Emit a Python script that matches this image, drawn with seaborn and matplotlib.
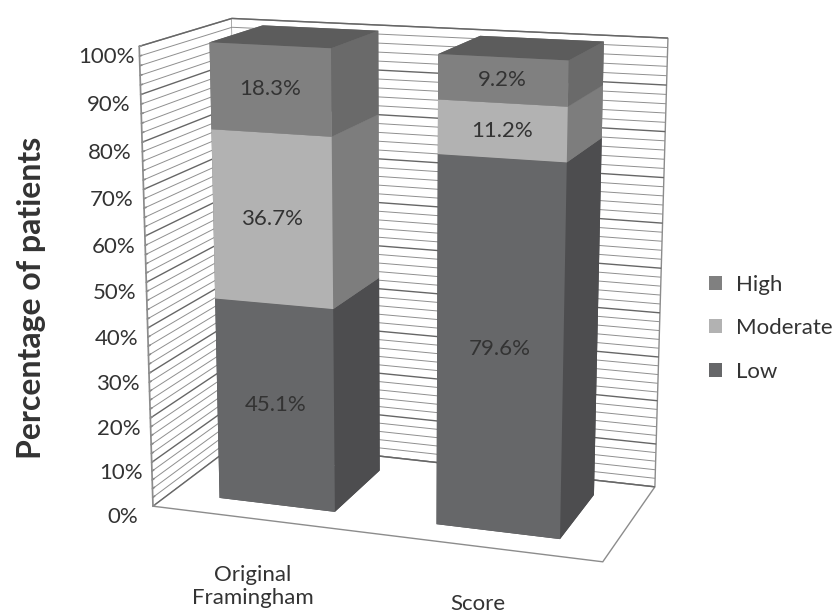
import numpy as np
import matplotlib
matplotlib.use("Agg")
import matplotlib.pyplot as plt
import seaborn as sns
from matplotlib.patches import Patch
from matplotlib.ticker import FuncFormatter

# --- data ---
categories = ["Original\nFramingham", "Score"]
low = [45.1, 79.6]
moderate = [36.7, 11.2]
high = [18.3, 9.2]
series_names = ["Low", "Moderate", "High"]

# front / side / top shades for each series
front_cols = {"Low": "#666769", "Moderate": "#b2b2b2", "High": "#808080"}
side_cols = {"Low": "#4d4d4f", "Moderate": "#7d7d7d", "High": "#6a6a6a"}
top_cols = {"Low": "#5a5a5a", "Moderate": "#9a9a9a", "High": "#5c5c5c"}

sns.set_theme(style="white")
plt.rcParams["font.family"] = ["Lato", "DejaVu Sans"]
text_col = "#333333"

fig = plt.figure(figsize=(8.38, 6.10), dpi=100)
ax = fig.add_axes([0.055, -0.016, 0.84, 1.1], projection="3d")
ax.set_proj_type("persp", focal_length=0.6)
ax.view_init(elev=14, azim=-71)
ax.set_box_aspect((1.05, 0.5, 1.05), zoom=1.01)

# bar geometry in data units
xs = np.arange(len(categories)) + 0.5
bar_w, depth0, depth = 0.54, 0.2, 0.6

stack = {"Low": low, "Moderate": moderate, "High": high}
bx, by, bz, dx, dy, dz, cols = [], [], [], [], [], [], []
base = np.zeros(len(categories))
for name in series_names:
    vals = np.array(stack[name])
    for i, v in enumerate(vals):
        bx.append(xs[i] - bar_w / 2)
        by.append(depth0)
        bz.append(base[i])
        dx.append(bar_w)
        dy.append(depth)
        dz.append(v)
        # face order: -z, +z, -y, +y, -x, +x
        cols += [side_cols[name], top_cols[name], front_cols[name],
                 side_cols[name], side_cols[name], side_cols[name]]
    base = base + vals

ax.bar3d(bx, by, bz, dx, dy, dz, color=cols, shade=False, edgecolor="none")

# value labels on the front faces
base = np.zeros(len(categories))
for name in series_names:
    vals = np.array(stack[name])
    for i, v in enumerate(vals):
        ax.text(xs[i], depth0, base[i] + v / 2, f"{v:.1f}%", zdir=None,
                ha="center", va="center", fontsize=16, color=text_col)
    base = base + vals

ax.set_xlim(0, 2)
ax.set_ylim(0, 1)
ax.set_zlim(0, 100)

ax.set_xticks(xs)
ax.set_xticklabels(categories, fontsize=16, color=text_col)
ax.set_yticks([])
ax.set_zticks(np.arange(0, 101, 2))
ax.zaxis.set_major_formatter(FuncFormatter(lambda v, p: f"{v:.0f}%" if round(v) % 10 == 0 else ""))
ax.tick_params(axis="z", labelsize=16, labelcolor=text_col, pad=7)
ax.tick_params(axis="x", pad=14)
ax.zaxis.set_ticks_position("lower")
ax.xaxis._axinfo["tick"].update(inward_factor=0, outward_factor=0)
ax.zaxis._axinfo["tick"].update(inward_factor=0, outward_factor=0.25)

# panes and grid
for axis in (ax.xaxis, ax.yaxis, ax.zaxis):
    axis.set_pane_color((1, 1, 1, 1))
    axis.pane.set_edgecolor("#8c8c8c")
    axis.line.set_color((0, 0, 0, 0))
ax.xaxis._axinfo["grid"].update(color=(1, 1, 1, 0), linewidth=0)
ax.yaxis._axinfo["grid"].update(color=(1, 1, 1, 0), linewidth=0)
n_z = 51
ax.zaxis._axinfo["grid"].update(
    color=["#666666" if k % 5 == 0 else "#8f8f8f" for k in range(n_z)],
    linewidth=[1.0 if k % 5 == 0 else 0.7 for k in range(n_z)],
    linestyle="-")
ax.zaxis.line.set_color("#8c8c8c")
ax.grid(True)

# only the 10% ticks carry a tick mark and a label
for k, t in enumerate(ax.zaxis.get_major_ticks()):
    t.tick1line.set_visible(k % 5 == 0)
    t.label1.set_visible(k % 5 == 0)
    t.tick1line.set_color("#8c8c8c")

fig.text(0.038, 0.511, "Percentage of patients", rotation=90, ha="center", va="center",
         fontsize=23, fontweight="bold", color=text_col)

handles = [Patch(facecolor=front_cols[n], edgecolor="none", label=n) for n in ["High", "Moderate", "Low"]]
fig.legend(handles=handles, loc="center left", bbox_to_anchor=(0.846, 0.462), frameon=False,
           fontsize=16, handlelength=0.6, handleheight=0.6, labelspacing=1.05, handletextpad=0.6,
           borderpad=0, borderaxespad=0, labelcolor=text_col)

fig.savefig("out.png", dpi=100)
